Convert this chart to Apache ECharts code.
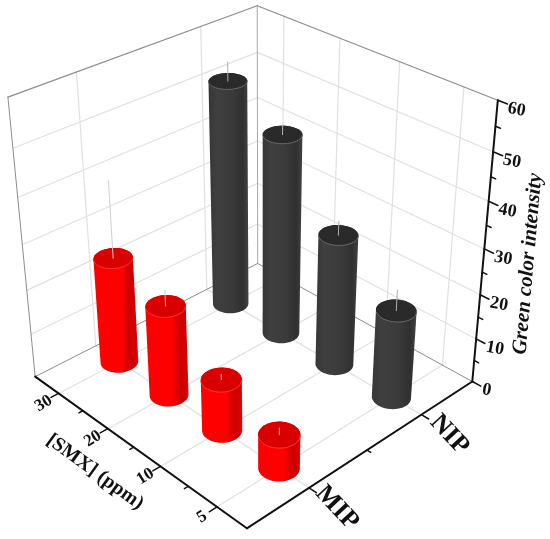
<!DOCTYPE html>
<html>
<head>
<meta charset="utf-8">
<style>
  html, body { margin: 0; padding: 0; background: #fff; }
  #main { width: 550px; height: 539px; }
</style>
<script src="https://cdn.jsdelivr.net/npm/echarts@6/dist/echarts.min.js"></script>
</head>
<body>
<div id="main"></div>
<script>
  // values
  var smxLabels = ['30', '20', '10', '5'];
  var sampleLabels = ['MIP', 'NIP'];
  var mipValues = [24, 20.3, 11.5, 7.5];
  var nipValues = [51, 45, 29.5, 19.8];
  var mipErrors = [16.7, 3.5, 1.2, 1.5];
  var nipErrors = [4, 2, 3, 4.5];
  var intensityTicks = [0, 10, 20, 30, 40, 50, 60];

  // box corners on screen, [u, v, w, px, py]; used to fit the perspective only
  var corners = [
    [0, 0, 0, 35, 377],
    [1, 0, 0, 247, 528],
    [1, 1, 0, 472, 382],
    [0, 1, 0, 258, 263],
    [0, 0, 1, 8, 97],
    [1, 1, 1, 498, 100],
    [0, 1, 1, 257, 6]
  ];

  function fitProjection(pts) {
    var rows = [], rhs = [];
    pts.forEach(function (p) {
      var x = p[3] / 500, y = p[4] / 500;
      rows.push([p[0], p[1], p[2], 1, 0, 0, 0, 0, -x * p[0], -x * p[1], -x * p[2]]);
      rhs.push(x);
      rows.push([0, 0, 0, 0, p[0], p[1], p[2], 1, -y * p[0], -y * p[1], -y * p[2]]);
      rhs.push(y);
    });
    var n = 11, m = [];
    for (var i = 0; i < n; i++) {
      m[i] = [];
      for (var j = 0; j <= n; j++) {
        var s = 0;
        for (var k = 0; k < rows.length; k++) {
          s += rows[k][i] * (j < n ? rows[k][j] : rhs[k]);
        }
        m[i][j] = s;
      }
    }
    for (var c = 0; c < n; c++) {
      var best = c;
      for (var r = c + 1; r < n; r++) {
        if (Math.abs(m[r][c]) > Math.abs(m[best][c])) best = r;
      }
      var t = m[c]; m[c] = m[best]; m[best] = t;
      for (var r2 = 0; r2 < n; r2++) {
        if (r2 === c) continue;
        var f = m[r2][c] / m[c][c];
        for (var q = c; q <= n; q++) m[r2][q] -= f * m[c][q];
      }
    }
    return m.map(function (row, idx) { return row[n] / row[idx]; });
  }

  var P = fitProjection(corners);

  function project(u, v, w) {
    var d = P[8] * u + P[9] * v + P[10] * w + 1;
    return [
      500 * (P[0] * u + P[1] * v + P[2] * w + P[3]) / d,
      500 * (P[4] * u + P[5] * v + P[6] * w + P[7]) / d
    ];
  }

  function line(a, b, color, width) {
    return {
      type: 'line',
      shape: { x1: a[0], y1: a[1], x2: b[0], y2: b[1] },
      style: { stroke: color, lineWidth: width, lineCap: 'round' }
    };
  }

  function label(text, p, rotateDeg, font, align) {
    return {
      type: 'text',
      x: p[0],
      y: p[1],
      rotation: rotateDeg * Math.PI / 180,
      style: {
        text: text,
        font: font,
        fill: '#111',
        align: align || 'center',
        verticalAlign: 'middle'
      }
    };
  }

  function hull(pts) {
    pts = pts.slice().sort(function (a, b) { return a[0] - b[0] || a[1] - b[1]; });
    function cross(o, a, b) {
      return (a[0] - o[0]) * (b[1] - o[1]) - (a[1] - o[1]) * (b[0] - o[0]);
    }
    var lower = [], upper = [];
    pts.forEach(function (p) {
      while (lower.length > 1 && cross(lower[lower.length - 2], lower[lower.length - 1], p) <= 0) lower.pop();
      lower.push(p);
    });
    pts.slice().reverse().forEach(function (p) {
      while (upper.length > 1 && cross(upper[upper.length - 2], upper[upper.length - 1], p) <= 0) upper.pop();
      upper.push(p);
    });
    return lower.slice(0, -1).concat(upper.slice(0, -1));
  }

  // axis positions come from the hidden grid, then go through the perspective
  function scales(params, api) {
    var rect = params.coordSys;
    return {
      u: function (i) { return (api.coord([i, 0])[0] - rect.x) / rect.width; },
      w: function (val) { return (rect.y + rect.height - api.coord([0, val])[1]) / rect.height; },
      v: function (i) { return echarts.number.linearMap(i, [-0.5, sampleLabels.length - 0.5], [0, 1]); }
    };
  }

  function renderFrame(params, api) {
    var s = scales(params, api);
    var kids = [];
    var gridColor = '#e0e0e0', edgeColor = '#8c8c8c', axisColor = '#111';
    var uTicks = smxLabels.map(function (d, i) { return s.u(i); });
    var vTicks = sampleLabels.map(function (d, i) { return s.v(i); });

    uTicks.forEach(function (u) {
      kids.push(line(project(u, 0, 0), project(u, 1, 0), gridColor, 1.2));
      kids.push(line(project(u, 1, 0), project(u, 1, 1), gridColor, 1.2));
    });
    vTicks.forEach(function (v) {
      kids.push(line(project(0, v, 0), project(1, v, 0), gridColor, 1.2));
      kids.push(line(project(0, v, 0), project(0, v, 1), gridColor, 1.2));
    });
    intensityTicks.slice(1, -1).forEach(function (val) {
      var w = s.w(val);
      kids.push(line(project(0, 0, w), project(0, 1, w), gridColor, 1.2));
      kids.push(line(project(0, 1, w), project(1, 1, w), gridColor, 1.2));
    });

    kids.push(line(project(0, 0, 0), project(0, 0, 1), edgeColor, 1));
    kids.push(line(project(0, 0, 1), project(0, 1, 1), edgeColor, 1.2));
    kids.push(line(project(0, 1, 1), project(1, 1, 1), edgeColor, 1.2));
    kids.push(line(project(0, 1, 0), project(0, 1, 1), '#a8a8a8', 1));
    kids.push(line(project(0, 0, 0), project(0, 1, 0), edgeColor, 1));
    kids.push(line(project(0, 1, 0), project(1, 1, 0), edgeColor, 1));

    kids.push(line(project(0, 0, 0), project(1, 0, 0), axisColor, 2));
    kids.push(line(project(1, 0, 0), project(1, 1, 0), axisColor, 2));
    kids.push(line(project(1, 1, 0), project(1, 1, 1), axisColor, 2));

    // ticks, labels
    uTicks.forEach(function (u, i) {
      var a = project(u, 0, 0);
      kids.push(line(a, project(u, -0.03, 0), axisColor, 1.5));
      if (i > 0) kids.push(line(project((u + uTicks[i - 1]) / 2, 0, 0), project((u + uTicks[i - 1]) / 2, -0.015, 0), axisColor, 1.5));
      kids.push(label(smxLabels[i], [a[0] - 15, a[1] + 10], 32, 'bold 17px "Liberation Serif"'));
    });
    vTicks.forEach(function (v, i) {
      var a = project(1, v, 0);
      kids.push(line(a, project(1.03, v, 0), axisColor, 1.5));
      kids.push(label(sampleLabels[i], [a[0] + 28, a[1] + 20], -47, 'bold 26px "Liberation Serif"'));
    });
    var mv = (vTicks[0] + vTicks[1]) / 2;
    kids.push(line(project(1, mv, 0), project(1.015, mv, 0), axisColor, 1.5));

    for (var val = 0; val <= 60; val += 5) {
      var w = s.w(val);
      var major = val % 10 === 0;
      var a = project(1, 1, w);
      kids.push(line(a, project(major ? 1.035 : 1.018, 1, w), axisColor, 1.5));
      if (major) {
        kids.push(label(String(val), [a[0] + 10, a[1] + 8], -10, 'bold 18px "Liberation Serif"', 'left'));
      }
    }

    kids.push(label('[SMX] (ppm)', [95, 472], -36, 'bold 20px "Liberation Serif"'));
    kids.push(label('Green color intensity', [528, 264], 85, 'italic bold 21px "Liberation Serif"'));
    return { type: 'group', children: kids };
  }

  var radius = 0.062;

  function renderBar(params, api) {
    var s = scales(params, api);
    var u = s.u(api.value(0)), v = s.v(api.value(2));
    var top = s.w(api.value(1)), tip = s.w(api.value(1) + api.value(3));
    var isMip = api.value(2) === 0;
    var topPts = [], allPts = [];
    for (var i = 0; i < 48; i++) {
      var t = i / 48 * Math.PI * 2;
      var cu = u + radius * Math.cos(t), cv = v + radius * Math.sin(t);
      var pt = project(cu, cv, top);
      topPts.push(pt);
      allPts.push(pt, project(cu, cv, 0));
    }
    var center = project(u, v, top);
    var rim = topPts.filter(function (p) { return p[1] > center[1]; })
      .sort(function (a, b) { return a[0] - b[0]; });
    var fill = new echarts.graphic.LinearGradient(0, 0, 1, 0, isMip ? [
      { offset: 0, color: '#ee0000' },
      { offset: 0.06, color: '#ff0000' },
      { offset: 0.62, color: '#ff0000' },
      { offset: 0.8, color: '#cc0000' },
      { offset: 0.95, color: '#d60000' },
      { offset: 1, color: '#ee1010' }
    ] : [
      { offset: 0, color: '#363636' },
      { offset: 0.2, color: '#3f3f3f' },
      { offset: 0.6, color: '#3a3a3a' },
      { offset: 0.85, color: '#303030' },
      { offset: 1, color: '#424242' }
    ]);
    return {
      type: 'group',
      children: [
        { type: 'polygon', shape: { points: hull(allPts) }, style: { fill: fill } },
        { type: 'polygon', shape: { points: topPts }, style: { fill: isMip ? '#d80000' : '#2a2a2a' } },
        { type: 'polyline', shape: { points: rim }, style: { fill: 'none', stroke: isMip ? '#f23a3a' : '#6a6a6a', lineWidth: 1 } },
        line(center, project(u, v, tip), isMip ? '#cfcfcf' : '#b0b0b0', 1)
      ]
    };
  }

  // far bars first
  var barData = [];
  smxLabels.forEach(function (d, i) {
    barData.push([i, nipValues[i], 1, nipErrors[i]]);
  });
  smxLabels.forEach(function (d, i) {
    barData.push([i, mipValues[i], 0, mipErrors[i]]);
  });

  var myChart = echarts.init(document.getElementById('main'), null, { renderer: 'canvas' });
  myChart.setOption({
    animation: false,
    backgroundColor: '#ffffff',
    grid: { left: 0, right: 0, top: 0, bottom: 0 },
    xAxis: { type: 'category', data: smxLabels, show: false },
    yAxis: { type: 'value', min: 0, max: 60, interval: 10, show: false },
    series: [
      {
        type: 'custom',
        name: 'frame',
        silent: true,
        z: 1,
        renderItem: renderFrame,
        data: [[0, 0]]
      },
      {
        type: 'custom',
        name: 'bars',
        z: 2,
        renderItem: renderBar,
        encode: { x: 0, y: 1 },
        data: barData
      }
    ]
  });
</script>
</body>
</html>
